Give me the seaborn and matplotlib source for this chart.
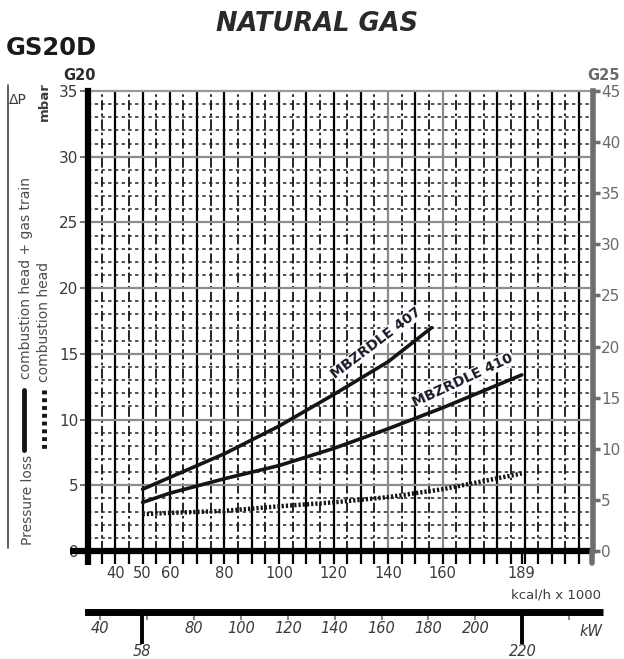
import numpy as np
import pandas as pd
import seaborn as sns
import matplotlib
matplotlib.use("Agg")
import matplotlib.pyplot as plt

# ---------------------------------------------------------------
# data (kcal/h x 1000 -> mbar, G20)
# ---------------------------------------------------------------
kcal_407 = [50, 60, 80, 100, 120, 140, 156]
dp_407 = [4.7, 5.6, 7.4, 9.5, 11.9, 14.4, 17.0]

kcal_410 = [50, 60, 80, 100, 120, 140, 160, 189]
dp_410 = [3.7, 4.4, 5.5, 6.5, 7.8, 9.3, 10.9, 13.4]

kcal_head = [50, 60, 80, 100, 120, 140, 160, 189]
dp_head = [2.8, 2.9, 3.05, 3.4, 3.7, 4.1, 4.7, 5.9]

kcal_ticks = [40, 50, 60, 80, 100, 120, 140, 160, 189]
kw_ticks = [40, 60, 80, 100, 120, 140, 160, 180, 200, 240]
kw_labels = ["40", "", "80", "100", "120", "140", "160", "180", "200", ""]
kw_marks = [58, 220]
g20_ticks = [0, 5, 10, 15, 20, 25, 30, 35]
g25_ticks = [0, 5, 10, 15, 20, 25, 30, 35, 40, 45]

KW_TO_KCAL = 0.86
W, H = 624, 659


def px(x, y):
    return x / W, 1 - y / H


sns.set_style("white")
plt.rcParams["font.family"] = ["DejaVu Sans"]
txt_col = "#3b3b3b"

fig = plt.figure(figsize=(W / 100, H / 100), dpi=100)
ax = fig.add_axes([88 / W, 1 - 551 / H, (590 - 88) / W, (551 - 91) / H])
ax.set_xlim(30, 214)
ax.set_ylim(0, 35)

# ---------------- grid -----------------------------------------
for v in np.arange(35, 214, 5):
    if v % 10 == 0:
        col = "#8a8a8a" if v in (140, 160) else "black"
        ax.axvline(v, color=col, lw=1.6, zorder=1)
    else:
        ax.axvline(v, color="black", lw=1.2, ls=(0, (6, 2, 1.5, 2)), zorder=1)
for h in np.arange(1, 35, 1):
    if h % 5 == 0:
        ax.axhline(h, color="#8c8c8c", lw=1.6, zorder=1)
    else:
        ax.axhline(h, color="#222222", lw=1.1, ls=(0, (2.2, 2.2)), zorder=1)

# ---------------- curves ---------------------------------------
df407 = pd.DataFrame({"kcal": kcal_407, "dp": dp_407})
df410 = pd.DataFrame({"kcal": kcal_410, "dp": dp_410})
dfhead = pd.DataFrame({"kcal": kcal_head, "dp": dp_head})

sns.lineplot(data=df407, x="kcal", y="dp", ax=ax, color="#151515", lw=2.6, zorder=4)
sns.lineplot(data=df410, x="kcal", y="dp", ax=ax, color="#151515", lw=2.6, zorder=4)
sns.lineplot(data=dfhead, x="kcal", y="dp", ax=ax, color="#151515", lw=3.2,
             ls=(0, (0.5, 0.45)), zorder=4)

ax.text(135.5, 15.8, "MBZRDLE 407", rotation=37, ha="center", va="center",
        fontsize=10, fontweight="bold", color="#1a1a2a", zorder=5,
        bbox=dict(facecolor="white", edgecolor="none", pad=0.2))
ax.text(167.5, 13.0, "MBZRDLE 410", rotation=25, ha="center", va="center",
        fontsize=10, fontweight="bold", color="#1a1a2a", zorder=5,
        bbox=dict(facecolor="white", edgecolor="none", pad=0.2))

# ---------------- axes / spines --------------------------------
for s in ["top", "right"]:
    ax.spines[s].set_visible(False)
ax.spines["left"].set_linewidth(4.5)
ax.spines["left"].set_color("black")
ax.spines["bottom"].set_linewidth(4.5)
ax.spines["bottom"].set_color("black")
# extend spines beyond corner
ax.plot([0, 0], [0, -0.03], transform=ax.transAxes, color="black", lw=4.5,
        clip_on=False, solid_capstyle="butt")
ax.plot([0, -0.035], [0, 0], transform=ax.transAxes, color="black", lw=4.5,
        clip_on=False, solid_capstyle="butt")
ax.plot([0, 1.0], [1, 1], transform=ax.transAxes, color="#9a9a9a", lw=1.6,
        clip_on=False)

ax.set_xticks(kcal_ticks)
ax.set_xticks([v for v in np.arange(35, 214, 5) if v not in kcal_ticks], minor=True)
ax.tick_params(axis="x", which="major", direction="out", length=9, width=1.6,
               color="black", labelsize=10.5, labelcolor=txt_col, pad=2, bottom=True)
ax.tick_params(axis="x", which="minor", direction="out", length=9, width=1.6,
               color="black", bottom=True)
ax.set_yticks(g20_ticks)
ax.tick_params(axis="y", direction="out", length=6, width=1.4, color="#777777",
               labelsize=11, labelcolor=txt_col, pad=1, left=True)
ax.set_xlabel("")
ax.set_ylabel("")

# right G25 axis
ax2 = ax.twinx()
ax2.set_ylim(0, 45)
ax2.set_yticks(g25_ticks)
for s in ["top", "left", "bottom"]:
    ax2.spines[s].set_visible(False)
ax2.spines["right"].set_linewidth(4)
ax2.spines["right"].set_color("#6e6e6e")
ax2.spines["right"].set_position(("outward", 2))
ax2.tick_params(axis="y", direction="out", length=5, width=2.5, color="#6e6e6e",
                labelsize=11, labelcolor="#6a6a6a", pad=1, right=True)
ax2.plot([1.004, 1.004], [0, -0.025], transform=ax2.transAxes, color="#6e6e6e",
         lw=4, clip_on=False)

# kW axis
kw = ax.secondary_xaxis(-0.132, functions=(lambda k: k / KW_TO_KCAL,
                                           lambda p: p * KW_TO_KCAL))
kw.set_xticks(kw_ticks, labels=kw_labels)
kw.set_xticks(kw_marks, labels=[str(m) for m in kw_marks], minor=True)
kw.spines["bottom"].set_linewidth(5)
kw.spines["bottom"].set_color("black")
kw.tick_params(axis="x", which="major", direction="out", length=6, width=1.5,
               color="#8a8a8a", labelsize=10.5, labelcolor=txt_col, pad=1)
kw.tick_params(axis="x", which="minor", direction="out", length=23, width=2.8,
               color="black", labelsize=10.5, labelcolor=txt_col, pad=0)
for lab in kw.get_xticklabels() + kw.get_xticklabels(minor=True):
    lab.set_fontstyle("italic")
ax.plot([1.0, 1.026], [-0.132, -0.132], transform=ax.transAxes, color="black",
        lw=5, clip_on=False, solid_capstyle="butt")

# ---------------- texts ----------------------------------------
fig.text(*px(317, 24), "NATURAL GAS", ha="center", va="center", fontsize=18.5,
         fontweight="bold", fontstyle="italic", color="#2a2a2a")
fig.text(*px(6, 48), "GS20D", ha="left", va="center", fontsize=17.5,
         fontweight="bold", color="#1a1a1a")
fig.text(*px(80, 76), "G20", ha="center", va="center", fontsize=10.5,
         fontweight="bold", color="#2a2a2a")
fig.text(*px(604, 75), "G25", ha="center", va="center", fontsize=10.5,
         fontweight="bold", color="#6a6a6a")
fig.text(*px(556, 595), "kcal/h x 1000", ha="center", va="center", fontsize=9.5,
         color=txt_col)
fig.text(*px(591, 632), "kW", ha="center", va="center", fontsize=10.5,
         fontstyle="italic", color=txt_col)

fig.text(*px(18, 100), "\u0394P", ha="center", va="center", fontsize=10,
         color=txt_col)
fig.text(*px(44, 102), "mbar", ha="center", va="center", fontsize=9.5,
         rotation=90, fontweight="bold", color=txt_col)
fig.text(*px(26, 278), "combustion head + gas train", ha="center", va="center",
         fontsize=10, rotation=90, color="#4d4d4d")
fig.text(*px(44, 322), "combustion head", ha="center", va="center",
         fontsize=10, rotation=90, color="#4d4d4d")
fig.text(*px(28, 500), "Pressure loss", ha="center", va="center",
         fontsize=10, rotation=90, color="#4d4d4d")

# legend swatches and frame line on the left
fig.add_artist(plt.Line2D([8 / W, 8 / W], [1 - 85 / H, 1 - 548 / H],
                          color="#444444", lw=1.2))
fig.add_artist(plt.Line2D([24 / W, 24 / W], [1 - 390 / H, 1 - 450 / H],
                          color="#151515", lw=3.5))
fig.add_artist(plt.Line2D([44 / W, 44 / W], [1 - 390 / H, 1 - 450 / H],
                          color="#151515", lw=3.5, ls=(0, (0.8, 0.8))))

fig.savefig("out.png", dpi=100)
